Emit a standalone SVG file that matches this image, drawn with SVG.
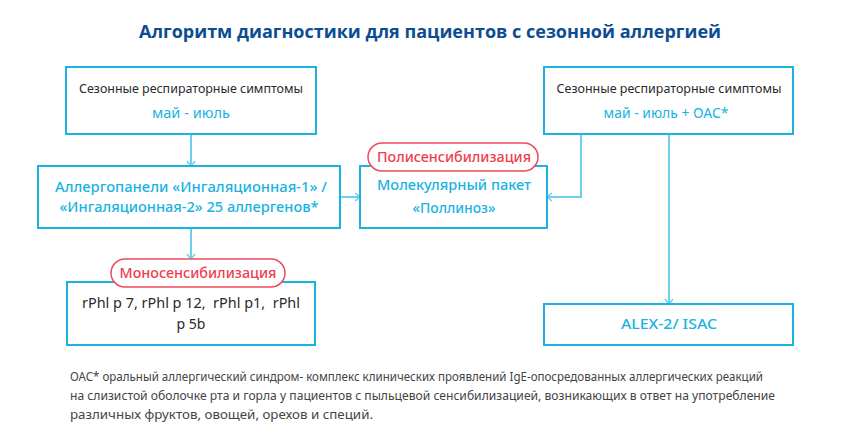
<svg xmlns="http://www.w3.org/2000/svg" width="860" height="440" viewBox="0 0 860 440">
<defs>
<style>
.box{fill:#fff;stroke:#1ab3e2;stroke-width:2}
.pill{fill:#fff;stroke:#ef4a5a;stroke-width:1.5}
.con{fill:none;stroke:#6ccff0;stroke-width:2}
.t{font-family:"Noto Sans","Open Sans",sans-serif;text-anchor:middle}
.dark{fill:#2a2a2a;font-size:13px}
.cyan{fill:#1ab3e2;font-size:14px;font-weight:500}
.red{fill:#ef3e4f;font-size:14px;font-weight:500}
.title{font-family:"Open Sans","Noto Sans",sans-serif;font-weight:700;font-size:18px;fill:#0c4d92;text-anchor:middle}
.foot{font-family:"Noto Sans","Open Sans",sans-serif;font-size:12px;fill:#444}
</style>
<marker id="arr" markerUnits="userSpaceOnUse" markerWidth="12" markerHeight="12" refX="9" refY="5" orient="auto">
<path d="M4,1 L9,5 L4,9" fill="none" stroke="#6ccff0" stroke-width="1.5"/>
</marker>
</defs>
<rect width="860" height="440" fill="#fff"/>
<text class="title" x="430" y="38" textLength="582" lengthAdjust="spacingAndGlyphs">Алгоритм диагностики для пациентов с сезонной аллергией</text>

<g id="connectors">
<path class="con" d="M191,134 V166" marker-end="url(#arr)"/>
<path class="con" d="M191,228 V259" marker-end="url(#arr)"/>
<path class="con" d="M340,197 H360" marker-end="url(#arr)"/>
<path class="con" d="M581,134 V197 H547" marker-end="url(#arr)"/>
<path class="con" d="M669,134 V304" marker-end="url(#arr)"/>
</g>

<g id="node-symptoms-left">
<rect class="box" x="66" y="67" width="250" height="67"/>
<text class="t dark" x="191" y="93" textLength="224" lengthAdjust="spacingAndGlyphs">Сезонные респираторные симптомы</text>
<text class="t cyan" x="191" y="118" style="font-weight:400" textLength="78" lengthAdjust="spacingAndGlyphs">май - июль</text>
</g>

<g id="node-panels">
<rect class="box" x="38" y="166" width="302" height="62"/>
<text class="t cyan" x="191" y="192" textLength="272" lengthAdjust="spacingAndGlyphs">Аллергопанели «Ингаляционная-1» /</text>
<text class="t cyan" x="189" y="212" textLength="259" lengthAdjust="spacingAndGlyphs">«Ингаляционная-2» 25 аллергенов*</text>
</g>

<g id="node-molecular">
<rect class="box" x="360" y="166" width="187" height="62"/>
<text class="t cyan" x="454" y="190" textLength="154" lengthAdjust="spacingAndGlyphs">Молекулярный пакет</text>
<text class="t cyan" x="454" y="213" textLength="83" lengthAdjust="spacingAndGlyphs">«Поллиноз»</text>
</g>

<g id="label-poly">
<rect class="pill" x="368" y="143" width="170" height="28" rx="14"/>
<text class="t red" x="454" y="162" textLength="154" lengthAdjust="spacingAndGlyphs">Полисенсибилизация</text>
</g>

<g id="node-symptoms-right">
<rect class="box" x="544" y="67" width="249" height="67"/>
<text class="t dark" x="669" y="93" textLength="225" lengthAdjust="spacingAndGlyphs">Сезонные респираторные симптомы</text>
<text class="t cyan" x="666" y="118" style="font-weight:400" textLength="125" lengthAdjust="spacingAndGlyphs">май - июль + ОАС*</text>
</g>

<g id="node-rphl">
<rect class="box" x="67" y="282" width="248" height="63"/>
<text class="t dark" x="191" y="308" style="font-size:14px;white-space:pre" xml:space="preserve" textLength="218" lengthAdjust="spacingAndGlyphs">rPhl p 7, rPhl p 12,  rPhl p1,  rPhl</text>
<text class="t dark" x="191" y="329" style="font-size:14px" textLength="29" lengthAdjust="spacingAndGlyphs">p 5b</text>
</g>

<g id="label-mono">
<rect class="pill" x="111" y="259" width="174" height="28" rx="14"/>
<text class="t red" x="198" y="278" textLength="157" lengthAdjust="spacingAndGlyphs">Моносенсибилизация</text>
</g>

<g id="node-alex">
<rect class="box" x="544" y="304" width="249" height="41"/>
<text class="t cyan" x="669" y="329" textLength="96" lengthAdjust="spacingAndGlyphs">ALEX-2/ ISAC</text>
</g>

<g id="footnote">
<text class="foot" x="70" y="381" textLength="693" lengthAdjust="spacingAndGlyphs">ОАС* оральный аллергический синдром- комплекс клинических проявлений IgE-опосредованных аллергических реакций</text>
<text class="foot" x="70" y="400" textLength="705" lengthAdjust="spacingAndGlyphs">на слизистой оболочке рта и горла у пациентов с пыльцевой сенсибилизацией, возникающих в ответ на употребление</text>
<text class="foot" x="70" y="419" textLength="303" lengthAdjust="spacingAndGlyphs">различных фруктов, овощей, орехов и специй.</text>
</g>
</svg>
